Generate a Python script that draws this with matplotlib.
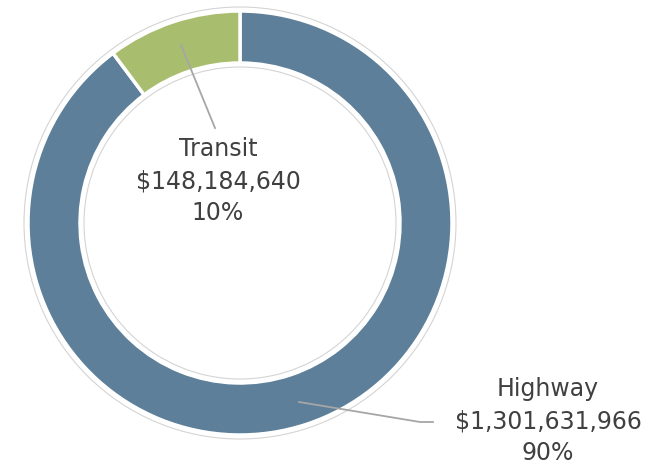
import matplotlib.pyplot as plt
from matplotlib.patches import Circle

# data
categories = ["Highway", "Transit"]
amounts = [1301631966, 148184640]
colors = ["#5d7f99", "#a9bd6f"]

total = sum(amounts)
pcts = [a / total * 100 for a in amounts]

fig = plt.figure(figsize=(6.6, 4.7), dpi=100)
ax = fig.add_axes([0, 0, 1, 1])
ax.set_xlim(0, 660)
ax.set_ylim(0, 470)
ax.set_aspect("equal")
ax.axis("off")

cx, cy = 240, 247
r_out = 212
ring = 52

ax.pie(amounts, colors=colors, startangle=90, counterclock=False,
       center=(cx, cy), radius=r_out, frame=True,
       wedgeprops=dict(width=ring, edgecolor="white", linewidth=2.5))
ax.set_xlim(0, 660)
ax.set_ylim(0, 470)
ax.axis("off")

# faint outline around the ring
for r in (r_out + 4, r_out - ring - 4):
  ax.add_patch(Circle((cx, cy), r, fill=False, edgecolor="#d4d4d4", linewidth=0.8))

txt_color = "#404040"
line_color = "#a6a6a6"

def label(name, amt, pct):
  return "%s\n$%s\n%d%%" % (name, format(amt, ","), round(pct))

# transit label + leader
ax.plot([181, 215], [470 - 45, 470 - 128], color=line_color, linewidth=1.3)
ax.text(218, 470 - 181, label(categories[1], amounts[1], pcts[1]),
        ha="center", va="center", fontsize=17, color=txt_color, linespacing=1.4)

# highway label + leader
ax.plot([299, 420, 433], [470 - 402, 470 - 422, 470 - 422], color=line_color, linewidth=1.3)
ax.text(548, 470 - 421, label(categories[0], amounts[0], pcts[0]),
        ha="center", va="center", fontsize=17, color=txt_color, linespacing=1.4)

fig.savefig("out.png", dpi=100)
